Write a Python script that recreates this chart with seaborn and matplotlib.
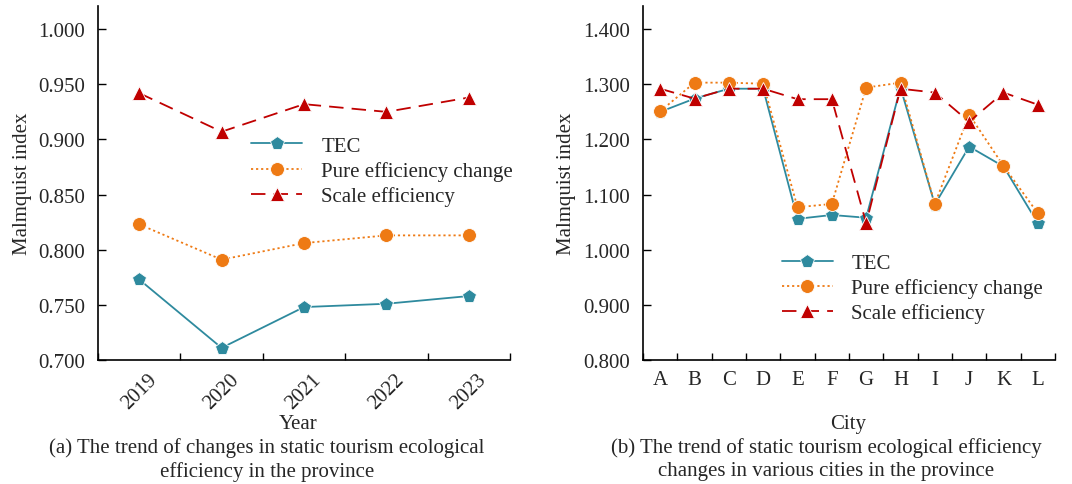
import numpy as np
import pandas as pd
import matplotlib
matplotlib.use("Agg")
import matplotlib.pyplot as plt
import seaborn as sns

# ---- data ----
years = ["2019", "2020", "2021", "2022", "2023"]
tec_year = [0.773, 0.711, 0.748, 0.751, 0.758]
pure_year = [0.823, 0.791, 0.806, 0.813, 0.813]
scale_year = [0.942, 0.907, 0.932, 0.925, 0.938]

cities = ["A", "B", "C", "D", "E", "F", "G", "H", "I", "J", "K", "L"]
tec_city = [1.250, 1.274, 1.292, 1.292, 1.056, 1.063, 1.058, 1.294, 1.082, 1.187, 1.151, 1.048]
pure_city = [1.251, 1.303, 1.303, 1.301, 1.077, 1.083, 1.294, 1.303, 1.083, 1.245, 1.152, 1.066]
scale_city = [1.292, 1.274, 1.292, 1.292, 1.273, 1.273, 1.048, 1.292, 1.285, 1.232, 1.285, 1.263]

series_names = ["TEC", "Pure efficiency change", "Scale efficiency"]

sns.set_theme(style="ticks")
plt.rcParams["font.family"] = ["Liberation Serif", "DejaVu Serif"]
plt.rcParams["mathtext.fontset"] = "stix"

FS = 15
colors = {"TEC": "#2E8A9E", "Pure efficiency change": "#EE7A14", "Scale efficiency": "#C00000"}
markers = {"TEC": "p", "Pure efficiency change": "o", "Scale efficiency": "^"}
dashes = {"TEC": "", "Pure efficiency change": (1.2, 1.6), "Scale efficiency": (8, 4.5)}


def long_frame(labels, tec, pure, scale):
    n = len(labels)
    return pd.DataFrame({
        "pos": np.tile(np.arange(n), 3),
        "value": np.concatenate([tec, pure, scale]),
        "series": np.repeat(series_names, n),
    })


def draw(ax, labels, tec, pure, scale, ylim, yticks, rot):
    df = long_frame(labels, tec, pure, scale)
    sns.lineplot(data=df, x="pos", y="value", hue="series", style="series",
                 hue_order=series_names, style_order=series_names,
                 palette=colors, markers=markers, dashes=dashes,
                 markersize=10, markeredgewidth=0.6, linewidth=1.3, ax=ax)
    n = len(labels)
    ax.set_xlim(-0.5, n - 0.5)
    ax.set_ylim(*ylim)
    ax.set_yticks(yticks)
    ax.set_yticklabels([f"{v:.3f}" for v in yticks], fontsize=FS)
    ax.set_xticks(np.arange(n))
    ax.set_xticklabels(labels, fontsize=FS, rotation=rot)
    ax.set_xticks(np.arange(n + 1) - 0.5, minor=True)
    ax.tick_params(axis="x", which="major", length=0, pad=7)
    ax.tick_params(axis="x", which="minor", direction="in", length=5, width=1.0, color="black")
    ax.tick_params(axis="y", direction="in", length=6, width=1.0, color="black", pad=9.5)
    ax.set_xlabel("")
    ax.set_ylabel("Malmquist index", fontsize=FS)
    for s in ["top", "right"]:
        ax.spines[s].set_visible(False)
    for s in ["left", "bottom"]:
        ax.spines[s].set_color("black")
        ax.spines[s].set_linewidth(1.2)
    ax.grid(False)


fig = plt.figure(figsize=(10.72, 4.85), dpi=100)
ax1 = fig.add_axes([98 / 1072, 124 / 485, 412 / 1072, 354 / 485])
ax2 = fig.add_axes([643 / 1072, 124 / 485, 412 / 1072, 354 / 485])

draw(ax1, years, tec_year, pure_year, scale_year, (0.700, 1.021),
     [0.700, 0.750, 0.800, 0.850, 0.900, 0.950, 1.000], 45)
draw(ax2, cities, tec_city, pure_city, scale_city, (0.800, 1.442),
     [0.800, 0.900, 1.000, 1.100, 1.200, 1.300, 1.400], 0)

ax1.yaxis.set_label_coords(-0.16, 0.5)
ax2.yaxis.set_label_coords(-0.163, 0.5)

leg_kw = dict(frameon=False, fontsize=FS, handlelength=2.45, handletextpad=0.9,
              labelspacing=0.25, borderaxespad=0)
ax1.legend(loc="upper left", bbox_to_anchor=(0.352, 0.656), **leg_kw)
ax2.legend(loc="upper left", bbox_to_anchor=(0.316, 0.324), **leg_kw)

fig.text(298 / 1072, 1 - 425 / 485, "Year", ha="center", va="center", fontsize=FS)
fig.text(848 / 1072, 1 - 425 / 485, "City", ha="center", va="center", fontsize=FS)
fig.text(267 / 1072, 1 - 448 / 485, "(a) The trend of changes in static tourism ecological",
         ha="center", va="center", fontsize=FS)
fig.text(267 / 1072, 1 - 472 / 485, "efficiency in the province",
         ha="center", va="center", fontsize=FS)
fig.text(826 / 1072, 1 - 448 / 485, "(b) The trend of static tourism ecological efficiency",
         ha="center", va="center", fontsize=FS)
fig.text(826 / 1072, 1 - 472 / 485, "changes in various cities in the province",
         ha="center", va="center", fontsize=FS)

fig.savefig("out.png", dpi=100, facecolor="white")
